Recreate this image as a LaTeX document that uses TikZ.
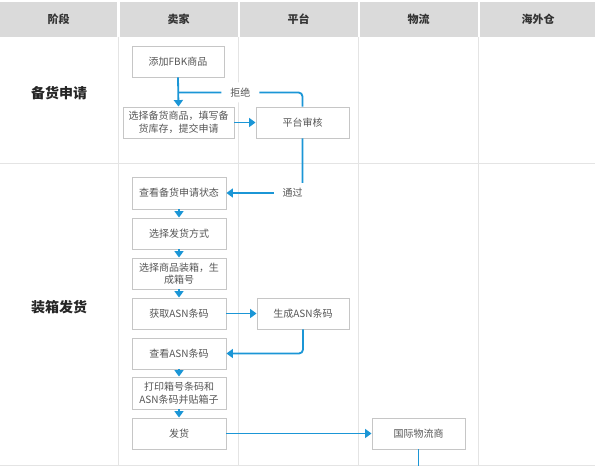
\documentclass[tikz,border=0pt]{standalone}
\usepackage{fontspec}
\setmainfont{Noto Sans CJK SC}
\usetikzlibrary{arrows.meta,calc}
\definecolor{hdr}{HTML}{DADADA}
\definecolor{flow}{HTML}{1B96D6}
\definecolor{boxline}{HTML}{C6C6C6}
\definecolor{grid}{HTML}{E4E4E4}
\definecolor{txt}{HTML}{555555}
\definecolor{htxt}{HTML}{333333}
\tikzset{
  hcell/.style={fill=hdr, draw=none, minimum height=35pt, inner sep=0pt, font=\fontsize{11}{13}\selectfont\bfseries, text=htxt},
  stagelbl/.style={font=\fontsize{14}{16}\selectfont\bfseries, text=black!85},
  box/.style={draw=boxline, line width=0.9pt, fill=white, minimum height=31pt, minimum width=94pt, inner sep=1pt, align=center, font=\fontsize{10}{12.5}\selectfont, text=txt},
  conn/.style={draw=flow, line width=1.8pt, rounded corners=4pt},
  arr/.style={conn, -{Triangle[length=6.5pt,width=9pt]}},
  elbl/.style={fill=white, minimum width=38pt, minimum height=20pt, inner sep=0pt, font=\fontsize{10}{11}\selectfont, text=txt},
  gridline/.style={draw=grid, line width=0.8pt}
}
\begin{document}
\begin{tikzpicture}[x=1pt,y=-1pt]
\useasboundingbox (0,0) rectangle (595,466);
% header cells
\node[hcell, minimum width=117pt] (h0) at (58.5,19.5) {阶段};
\node[hcell, minimum width=118pt] (h1) at (178.5,19.5) {卖家};
\node[hcell, minimum width=118pt] (h2) at (298.5,19.5) {平台};
\node[hcell, minimum width=118pt] (h3) at (418.5,19.5) {物流};
\node[hcell, minimum width=116pt] (h4) at (538,19.5) {海外仓};
% grid lines
\draw[gridline] (118.5,37) -- (118.5,466);
\draw[gridline] (238.5,37) -- (238.5,466);
\draw[gridline] (358.5,37) -- (358.5,466);
\draw[gridline] (478.5,37) -- (478.5,466);
\draw[gridline] (0,163.5) -- (595,163.5);
\draw[gridline] (0,465) -- (595,465);
% stage labels
\node[stagelbl] (s1) at (59,93) {备货申请};
\node[stagelbl] (s2) at (59,307) {装箱发货};
% boxes
\node[box, minimum width=92pt] (add) at (178,61.5) {添加FBK商品};
\node[box, minimum width=111pt] (sel) at (178.5,122.5) {选择备货商品，填写备\\货库存，提交申请};
\node[box, minimum width=93pt] (aud) at (302.5,122.5) {平台审核};
\node[box, minimum height=32pt] (chk) at (179,193) {查看备货申请状态};
\node[box] (way) at (179,233.5) {选择发货方式};
\node[box] (pack) at (179,273.5) {选择商品装箱，生\\成箱号};
\node[box] (asn) at (179,313.5) {获取ASN条码};
\node[box, minimum width=92pt] (gen) at (303,313.5) {生成ASN条码};
\node[box] (view) at (179,353.5) {查看ASN条码};
\node[box, minimum height=32pt] (prt) at (179,393) {打印箱号条码和\\ASN条码并贴箱子};
\node[box] (send) at (179,433.5) {发货};
\node[box, minimum width=93pt] (intl) at (418.5,433.5) {国际物流商};
% connectors
\path (add.south) ++(0,15) coordinate (jn);
\draw[arr] (add.south) -- (sel.north);
\draw[conn] (aud.north) |- node[elbl, pos=0.75] (rej) {拒绝} (jn);
\draw[arr] (sel.east) -- (aud.west);
\draw[arr] (aud.south) |- (chk.east);
\path (aud.south |- chk.east) ++(-10,0) coordinate (pc);
\node[elbl] (pass) at (pc) {通过};
\draw[arr] (chk.south) -- (way.north);
\draw[arr] (way.south) -- (pack.north);
\draw[arr] (pack.south) -- (asn.north);
\draw[arr] (asn.east) -- (gen.west);
\draw[arr] (gen.south) |- (view.east);
\draw[arr] (view.south) -- (prt.north);
\draw[arr] (prt.south) -- (send.north);
\draw[arr] (send.east) -- (intl.west);
\path (intl.south) ++(0,20) coordinate (tail);
\draw[conn] (intl.south) -- (tail);
\end{tikzpicture}
\end{document}
